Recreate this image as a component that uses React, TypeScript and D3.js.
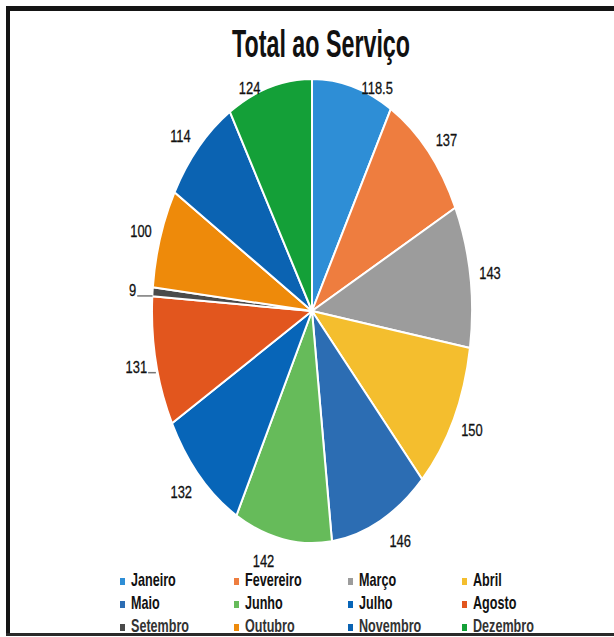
import React from "react";
import * as d3 from "d3";

const months = ["Janeiro","Fevereiro","Março","Abril","Maio","Junho","Julho","Agosto","Setembro","Outubro","Novembro","Dezembro"];
const values = [118.5,137,143,150,146,142,132,131,9,100,114,124];
const colors = ["#2E8ED6","#EE7D3F","#9C9C9C","#F4BE2E","#2C6DB3","#66BB5A","#0765B8","#E2561E","#4A4A4A","#EE8A0A","#0B63B2","#14A038"];
const leaderMonths = ["Agosto","Setembro"];
const title = "Total ao Serviço";

const W = 614, H = 637;
const cx = 312, cy = 311, rx = 160, ry = 232;

export default function App() {
  const pie = d3.pie<number>().sort(null).value(d => d).startAngle(0).endAngle(2 * Math.PI);
  const arcs = pie(values);
  const arc = d3.arc<d3.PieArcDatum<number>>().innerRadius(0).outerRadius(rx);
  const sy = ry / rx;

  const labelFont = 17, labelScale = 0.76;
  const charW = (s: string) => s.split("").reduce((a, c) => a + (c === "." ? 4.7 : 9.45), 0) * (labelFont / 17) * labelScale;

  return (
    <svg width={W} height={H} style={{ position: "absolute", left: 0, top: 0, background: "#fff" }}>
      <rect x={0} y={0} width={W} height={H} fill="#fff" />
      {/* frame */}
      <rect x={6} y={6} width={608} height={5} fill="#151515" />
      <rect x={6} y={6} width={4} height={628} fill="#151515" />
      <rect x={6} y={633} width={608} height={3} fill="#2a2a2a" />

      <text x={321} y={57} fontSize={38} fontWeight="bold" fontFamily="'Liberation Sans', Arial, sans-serif"
        textAnchor="middle" textLength={178} lengthAdjust="spacingAndGlyphs" fill="#111">{title}</text>

      <g transform={`translate(${cx},${cy}) scale(1,${sy})`}>
        {arcs.map((a, i) => (
          <path key={i} d={arc(a) || ""} fill={colors[i]} stroke="#fff" strokeWidth={2} vectorEffect="non-scaling-stroke" strokeLinejoin="round" />
        ))}
      </g>

      {arcs.map((a, i) => {
        const m = (a.startAngle + a.endAngle) / 2;
        const s = Math.sin(m), c = Math.cos(m);
        const c4 = Math.pow(Math.abs(c), 4);
        const txt = String(values[i]);
        const hw = charW(txt) / 2;
        const gapY = 22 - 26 * Math.pow(Math.max(0, c), 4);
        const lx = cx + (rx + 20) * s + Math.sign(s) * (hw + 6) * c4;
        const ly = cy - (ry + gapY) * c;
        const rimX = cx + rx * s;
        return (
          <g key={i}>
            {leaderMonths.includes(months[i]) && (
              <line x1={lx + hw + 1} y1={ly + 6} x2={rimX} y2={ly + 6} stroke="#777" strokeWidth={1.5} />
            )}
            <text transform={`translate(${lx},${ly}) scale(${labelScale},1)`} fontSize={labelFont}
              fontFamily="'Liberation Sans', Arial, sans-serif" textAnchor="middle" dominantBaseline="central"
              fill="#111" stroke="#111" strokeWidth={0.3}>{txt}</text>
          </g>
        );
      })}

      {months.map((mname, i) => {
        const col = i % 4, row = Math.floor(i / 4);
        const mx = 120 + col * 114;
        const by = 586 + row * 23;
        return (
          <g key={mname}>
            <rect x={mx} y={by - 8} width={5} height={7} fill={colors[i]} />
            <text transform={`translate(${mx + 11},${by}) scale(0.7,1)`} fontSize={18} fontWeight="bold"
              fontFamily="'Liberation Sans', Arial, sans-serif" fill={row === 2 ? "#333" : "#111"}>{mname}</text>
          </g>
        );
      })}
    </svg>
  );
}
